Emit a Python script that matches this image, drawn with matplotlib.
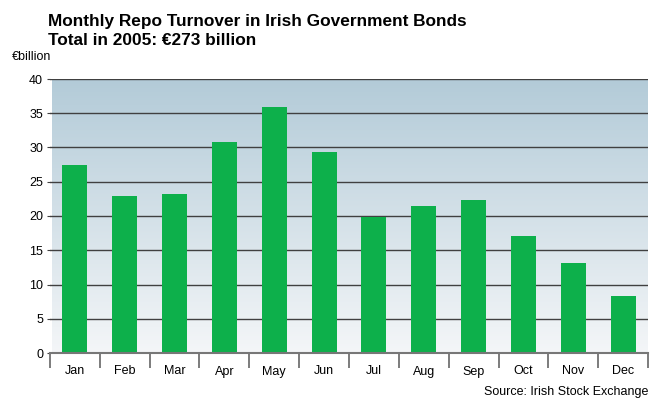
import numpy as np
import matplotlib.pyplot as plt
from matplotlib.colors import LinearSegmentedColormap

plt.rcParams['font.family'] = ['Liberation Sans', 'DejaVu Sans']

months = ['Jan', 'Feb', 'Mar', 'Apr', 'May', 'Jun',
          'Jul', 'Aug', 'Sep', 'Oct', 'Nov', 'Dec']
turnover = [27.4, 22.9, 23.2, 30.8, 35.9, 29.3,
            19.9, 21.5, 22.3, 17.1, 13.1, 8.3]
y_ticks = [0, 5, 10, 15, 20, 25, 30, 35, 40]

fig = plt.figure(figsize=(6.57, 4.01), dpi=100)
ax = fig.add_axes([50 / 657, 48 / 401, 598 / 657, 274 / 401])

n = len(months)
x = np.arange(n)

# vertical gradient behind the bars: steel blue at top fading to near white
grad = LinearSegmentedColormap.from_list('bg', ['#f4f6f8', '#b3cbd8'])
ax.imshow(np.linspace(0, 1, 256).reshape(-1, 1), aspect='auto', cmap=grad,
          origin='lower', extent=(-0.45, n - 0.5, 0, 40), zorder=0)

for t in y_ticks[1:]:
    ax.axhline(t, color='#404040', lw=1.0, zorder=1)

ax.bar(x, turnover, width=0.5, color='#0db04b', zorder=2)

ax.set_xlim(-0.5, n - 0.5)
ax.set_ylim(0, 40)

for s in ['top', 'right', 'left']:
    ax.spines[s].set_visible(False)
ax.spines['bottom'].set_color('#777777')
ax.spines['bottom'].set_linewidth(1.5)

ax.set_yticks(y_ticks)
ax.tick_params(axis='y', length=2, color='#404040', labelsize=9, pad=3)

ax.set_xticks(x)
ax.set_xticklabels(months)
ax.set_xticks(np.arange(n + 1) - 0.5, minor=True)
ax.tick_params(axis='x', which='major', length=0, labelsize=9, pad=9)
ax.tick_params(axis='x', which='minor', length=11, width=1.2, color='#666666')

fig.text(48 / 657, 1 - 26 / 401, 'Monthly Repo Turnover in Irish Government Bonds',
         fontsize=12.4, fontweight='bold', va='baseline', ha='left')
fig.text(48 / 657, 1 - 45 / 401, 'Total in 2005: €273 billion',
         fontsize=12.4, fontweight='bold', va='baseline', ha='left')
fig.text(12 / 657, 1 - 60 / 401, '€billion', fontsize=9, va='baseline', ha='left')
fig.text(648 / 657, 1 - 395 / 401, 'Source: Irish Stock Exchange',
         fontsize=9, va='baseline', ha='right')

fig.savefig('out.png', dpi=100, facecolor='white')
